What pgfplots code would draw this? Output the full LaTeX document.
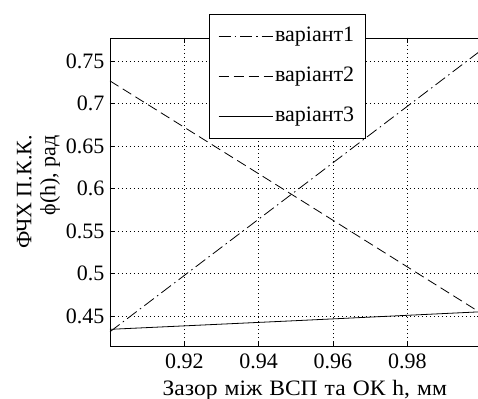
\documentclass[border=0pt]{standalone}
\usepackage{pgfplots}
\pgfplotsset{compat=1.18}
\usepackage{fontspec}
\setmainfont{Liberation Serif}
\begin{document}
\fontsize{22bp}{26bp}\selectfont
\begin{tikzpicture}
\useasboundingbox (-110bp,-53bp) rectangle (368bp,346bp);
\begin{axis}[
  at={(0,0)}, anchor=south west,
  scale only axis, width=371.6bp, height=308bp,
  xmin=0.9, xmax=1.0, ymin=0.4147, ymax=0.777,
  xtick={0.92,0.94,0.96,0.98},
  ytick={0.45,0.5,0.55,0.6,0.65,0.7,0.75},
  /pgf/number format/assume math mode=true,
  /pgf/number format/fixed, /pgf/number format/precision=2,
  tick label style={font=\fontsize{22bp}{26bp}\selectfont},
  yticklabel style={xshift=2bp},
  label style={font=\fontsize{22bp}{24bp}\selectfont},
  tick align=inside, major tick length=5bp,
  tick style={black, line width=0.6bp},
  axis line style={black, line width=0.9bp},
  grid=major,
  major grid style={black, line width=0.7bp, dash pattern=on 1bp off 3bp},
  xlabel={\addfontfeatures{FakeStretch=1.07}\spaceskip=7bp Зазор між ВСП та ОК h, мм},
  ylabel={ФЧХ П.К.К.\\ϕ(h), рад},
  ylabel style={align=right, yshift=-9bp},
  xlabel style={yshift=3bp, xshift=9bp},
  legend style={at={(0.266,1.078)}, anchor=north west, draw=black, line width=0.9bp, fill=white,
     font=\fontsize{22bp}{26bp}\selectfont, row sep=18bp, inner xsep=9bp, inner ysep=11bp,
     /tikz/every even column/.append style={column sep=5bp}},
  legend cell align=left,
  legend image code/.code={\draw[#1, line width=0.8bp] (0bp,0bp) -- (54bp,0bp);},
]
\addplot[black, line width=0.8bp, dash pattern=on 12bp off 4bp on 1.5bp off 4bp] coordinates {(0.9,0.4315) (0.95,0.597) (1.0,0.763)};
\addlegendentry{варіант1}
\addplot[black, line width=0.8bp, dash pattern=on 10bp off 5bp] coordinates {(0.9,0.7265) (0.95,0.590) (1.0,0.453)};
\addlegendentry{варіант2}
\addplot[black, line width=0.8bp] coordinates {(0.9,0.4343) (0.95,0.4445) (1.0,0.455)};
\addlegendentry{варіант3}
\end{axis}
\end{tikzpicture}
\end{document}
